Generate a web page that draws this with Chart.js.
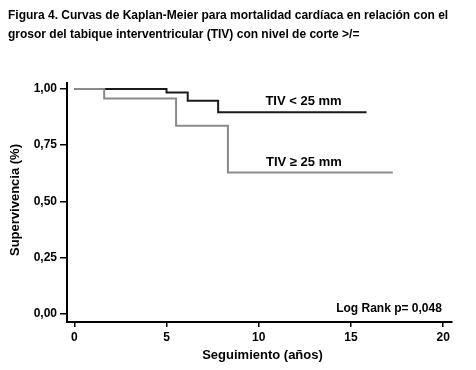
<!DOCTYPE html>
<html>
<head>
<meta charset="utf-8">
<script src="https://cdn.jsdelivr.net/npm/chart.js@4"></script>
<style>
html,body{margin:0;padding:0;background:#fff;}
#wrap{width:476px;height:370px;position:relative;}
</style>
</head>
<body>
<div id="wrap"><canvas id="c" width="476" height="370"></canvas></div>
<script>
// ---- data ----
const titleLines = [
  "Figura 4. Curvas de Kaplan-Meier para mortalidad cardíaca en relación con el",
  "grosor del tabique interventricular (TIV) con nivel de corte >/="
];
const xTicks = [0, 5, 10, 15, 20];
const yTicks = [0, 0.25, 0.5, 0.75, 1];
const seriesNames = ["TIV < 25 mm", "TIV ≥ 25 mm"];
const timeLow = [0, 5.0, 6.15, 7.8, 15.85];
const survLow = [1, 0.985, 0.948, 0.896, 0.896];
const timeHigh = [0, 1.62, 5.52, 8.33, 17.27];
const survHigh = [1, 0.958, 0.836, 0.628, 0.628];
const xTitle = "Seguimiento (años)";
const yTitle = "Supervivencia (%)";
const logRankText = "Log Rank p= 0,048";

const toPts = (xs, ys) => xs.map((x, i) => ({x, y: ys[i]}));
const fmt = v => v.toFixed(2).replace('.', ',');

const textPlugin = {
  id: 'texts',
  afterDraw(chart) {
    const ctx = chart.ctx;
    const xs = chart.scales.x, ys = chart.scales.y;
    ctx.save();
    ctx.fillStyle = '#000';
    // title
    ctx.font = 'bold 12px "Liberation Sans", Arial, sans-serif';
    ctx.textAlign = 'left';
    ctx.textBaseline = 'alphabetic';
    ctx.fillText(titleLines[0], 8, 19, 444);
    ctx.fillText(titleLines[1], 8, 38, 444 * ctx.measureText(titleLines[1]).width / ctx.measureText(titleLines[0]).width);
    // series labels
    ctx.font = 'bold 13px "Liberation Sans", Arial, sans-serif';
    ctx.textAlign = 'center';
    ctx.textBaseline = 'middle';
    ctx.fillText(seriesNames[0], xs.getPixelForValue(12.43), ys.getPixelForValue(0.943));
    ctx.fillText(seriesNames[1], xs.getPixelForValue(12.45), ys.getPixelForValue(0.675));
    // log rank
    ctx.font = 'bold 12px "Liberation Sans", Arial, sans-serif';
    ctx.textAlign = 'right';
    ctx.fillText(logRankText, xs.getPixelForValue(19.93), ys.getPixelForValue(0.024));
    // axis titles
    ctx.font = 'bold 13px "Liberation Sans", Arial, sans-serif';
    ctx.textAlign = 'center';
    ctx.fillText(xTitle, 262.5, 355);
    ctx.translate(15, 200);
    ctx.rotate(-Math.PI / 2);
    ctx.fillText(yTitle, 0, 0);
    ctx.restore();
  }
};

new Chart(document.getElementById('c'), {
  type: 'line',
  data: {
    datasets: [
      {
        label: seriesNames[1],
        data: toPts(timeHigh, survHigh),
        stepped: 'before',
        borderColor: '#8a8a8a',
        borderWidth: 2,
        pointRadius: 0,
        fill: false
      },
      {
        label: seriesNames[0],
        data: toPts(timeLow, survLow),
        stepped: 'before',
        borderColor: '#1a1a1a',
        borderWidth: 2,
        pointRadius: 0,
        fill: false
      }
    ]
  },
  options: {
    responsive: false,
    animation: false,
    layout: {padding: {top: 83, right: 24, left: 0, bottom: 0}},
    plugins: {legend: {display: false}, tooltip: {enabled: false}, title: {display: false}},
    scales: {
      x: {
        type: 'linear',
        min: -0.395,
        max: 20.48,
        afterBuildTicks: s => { s.ticks = xTicks.map(v => ({value: v})); },
        afterFit: s => { s.height = 48; },
        grid: {drawOnChartArea: false, drawTicks: true, tickLength: 5, color: '#000', lineWidth: 1.5},
        border: {display: true, color: '#000', width: 2},
        ticks: {
          color: '#000',
          padding: 3,
          maxRotation: 0,
          font: {family: '"Liberation Sans", Arial, sans-serif', size: 12, weight: 'bold'},
          callback: v => String(v)
        }
      },
      y: {
        type: 'linear',
        min: -0.0375,
        max: 1.0268,
        afterBuildTicks: s => { s.ticks = yTicks.map(v => ({value: v})); },
        afterFit: s => { s.width = 67; },
        grid: {drawOnChartArea: false, drawTicks: true, tickLength: 7, color: '#000', lineWidth: 1.5},
        border: {display: true, color: '#000', width: 2},
        ticks: {
          color: '#000',
          padding: 3,
          font: {family: '"Liberation Sans", Arial, sans-serif', size: 12, weight: 'bold'},
          callback: v => fmt(v)
        }
      }
    }
  },
  plugins: [textPlugin]
});
</script>
</body>
</html>
